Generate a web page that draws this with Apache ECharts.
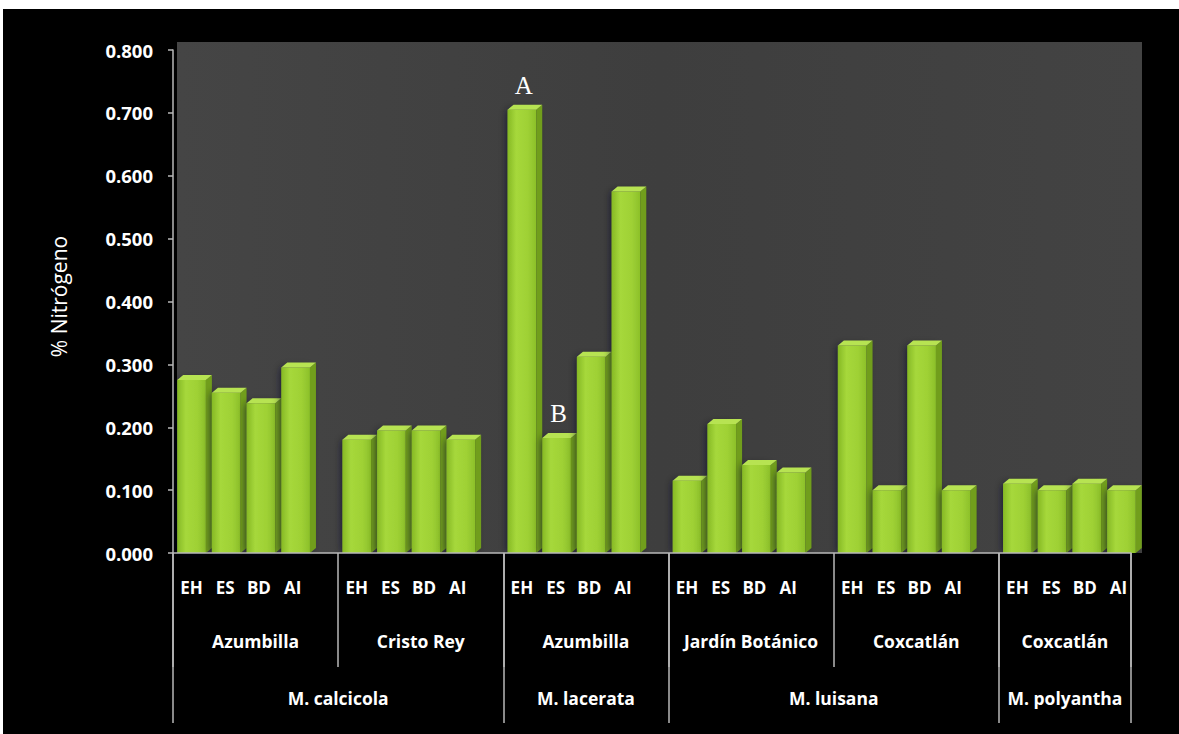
<!DOCTYPE html>
<html>
<head>
<meta charset="utf-8">
<script src="https://cdn.jsdelivr.net/npm/echarts@6/dist/echarts.min.js"></script>
<style>
  html, body { margin: 0; padding: 0; background: #fff; }
  #chart {
    position: absolute; left: 0; top: 0; width: 1179px; height: 734px;
    background:
      linear-gradient(#fff, #fff) 0 0 / 100% 9px no-repeat,
      linear-gradient(#fff, #fff) 0 0 / 3px 100% no-repeat,
      #000;
  }
</style>
</head>
<body>
<div id="chart"></div>
<script>
// Sites (one group of four bars each) and the species they belong to
const sites = ['Azumbilla', 'Cristo Rey', 'Azumbilla', 'Jardín Botánico', 'Coxcatlán', 'Coxcatlán'];
const species = ['M. calcicola', 'M. lacerata', 'M. luisana', 'M. polyantha'];
const treatments = ['EH', 'ES', 'BD', 'AI'];

// % nitrogen per treatment, one value per site
const valuesEH = [0.275, 0.180, 0.705, 0.115, 0.330, 0.110];
const valuesES = [0.255, 0.195, 0.183, 0.205, 0.100, 0.100];
const valuesBD = [0.238, 0.195, 0.312, 0.140, 0.330, 0.110];
const valuesAI = [0.295, 0.180, 0.575, 0.128, 0.100, 0.100];

// significance letters written above single bars
const lettersEH = ['', '', 'A', '', '', ''];
const lettersES = ['', '', 'B', '', '', ''];
const lettersBD = ['', '', '', '', '', ''];
const lettersAI = ['', '', '', '', '', ''];

// hierarchical category axis, measured in site units
const siteEdges = [0, 1, 2, 3, 4, 5, 5.8];
const siteCenters = [0.5, 1.5, 2.5, 3.5, 4.5, 5.4];
const speciesEdges = [0, 2, 3, 5, 5.8];
const speciesCenters = [1, 2.5, 4, 5.4];

const yMin = 0, yMax = 0.8, yStep = 0.1;

const labelFont = 'Open Sans';
const frontFill = {
  type: 'linear', x: 0, y: 0, x2: 1, y2: 0,
  colorStops: [
    { offset: 0, color: '#86b925' },
    { offset: 0.3, color: '#a6d83b' },
    { offset: 0.7, color: '#9fd135' },
    { offset: 1, color: '#8cc02a' }
  ]
};

// draws one 3-D looking column: front face, right side and top face
function columnRenderer(k, letters) {
  return function (params, api) {
    const i = api.value(0);
    const v = api.value(1);
    const band = api.size([1, 0])[0];
    const base = api.coord([i, 0]);
    const top = api.coord([i, v]);
    const inner = band * 0.84;
    const slot = inner / 4;
    const dx = 6, dy = 5;
    const x0 = base[0] - inner / 2 + k * slot;
    const w = slot - dx;
    const yT = top[1], yB = base[1];
    const children = [
      {
        type: 'rect',
        shape: { x: x0, y: yT, width: w, height: yB - yT },
        style: { fill: frontFill, shadowBlur: 8, shadowColor: 'rgba(15,15,40,0.75)' }
      },
      {
        type: 'polygon',
        shape: { points: [[x0 + w, yT], [x0 + w + dx, yT - dy], [x0 + w + dx, yB - dy], [x0 + w, yB]] },
        style: { fill: '#719e1c' }
      },
      {
        type: 'polygon',
        shape: { points: [[x0, yT], [x0 + dx, yT - dy], [x0 + w + dx, yT - dy], [x0 + w, yT]] },
        style: { fill: '#b7e352' }
      },
      {
        type: 'text',
        style: {
          text: treatments[k], x: x0 + w / 2 - k, y: yB + 34,
          fill: '#fff', fontSize: 17, fontWeight: 'bold', fontFamily: labelFont,
          align: 'center', verticalAlign: 'middle'
        }
      }
    ];
    const letter = letters[i];
    if (letter) {
      children.push({
        type: 'text',
        style: {
          text: letter, x: x0 + w / 2 + 2, y: yT - 24,
          fill: '#fff', fontSize: 25, fontFamily: 'Liberation Serif',
          align: 'center', verticalAlign: 'middle'
        }
      });
    }
    return { type: 'group', children: children };
  };
}

const seriesValues = [valuesEH, valuesES, valuesBD, valuesAI];
const seriesLetters = [lettersEH, lettersES, lettersBD, lettersAI];

const chart = echarts.init(document.getElementById('chart'), null, { renderer: 'svg' });

chart.setOption({
  backgroundColor: 'transparent',
  animation: false,
  grid: [
    // axis frame
    { left: 173, right: 48, top: 50, bottom: 181, show: false },
    // columns
    { left: 164, right: 24, top: 50, bottom: 181, show: false },
    // back wall
    {
      left: 177, right: 37, top: 42, bottom: 181, show: true,
      borderWidth: 0,
      backgroundColor: {
        type: 'linear', x: 0, y: 0, x2: 1, y2: 0,
        colorStops: [
          { offset: 0, color: '#454545' },
          { offset: 0.5, color: '#3e3e3e' },
          { offset: 1, color: '#434343' }
        ]
      }
    }
  ],
  xAxis: [
    {
      gridIndex: 0, type: 'value', min: siteEdges[0], max: siteEdges[siteEdges.length - 1],
      position: 'bottom', z: 5,
      axisLine: { show: true, lineStyle: { color: '#b8b8b8', width: 1.5 } },
      axisTick: { show: true, customValues: siteEdges, length: 114, lineStyle: { color: '#b8b8b8', width: 1.5 } },
      axisLabel: {
        show: true, customValues: siteCenters, margin: 79,
        color: '#fff', fontSize: 17.5, fontWeight: 'bold', fontFamily: labelFont,
        formatter: function (v) { const idx = siteCenters.indexOf(v); return idx >= 0 ? sites[idx] : ''; }
      },
      splitLine: { show: false }
    },
    {
      gridIndex: 0, type: 'value', min: speciesEdges[0], max: speciesEdges[speciesEdges.length - 1],
      position: 'bottom', z: 5,
      axisLine: { show: false },
      axisTick: { show: true, customValues: speciesEdges, length: 170, lineStyle: { color: '#b8b8b8', width: 1.5 } },
      axisLabel: {
        show: true, customValues: speciesCenters, margin: 136,
        color: '#fff', fontSize: 17.5, fontWeight: 'bold', fontFamily: labelFont,
        formatter: function (v) { const idx = speciesCenters.indexOf(v); return idx >= 0 ? species[idx] : ''; }
      },
      splitLine: { show: false }
    },
    { gridIndex: 1, type: 'category', data: sites, show: false },
    { gridIndex: 2, type: 'value', show: false }
  ],
  yAxis: [
    {
      gridIndex: 0, type: 'value', min: yMin, max: yMax, interval: yStep, z: 5,
      name: '% Nitrógeno', nameLocation: 'middle', nameGap: 104, nameRotate: 90,
      nameTextStyle: { color: '#fff', fontSize: 21, fontFamily: labelFont, padding: [0, 0, 0, 10] },
      axisLine: { show: true, lineStyle: { color: '#b8b8b8', width: 1.5 } },
      axisTick: { show: true, length: 5, lineStyle: { color: '#b8b8b8', width: 1.5 } },
      axisLabel: {
        margin: 20, color: '#fff', fontSize: 18.5, fontWeight: 'bold', fontFamily: labelFont,
        formatter: function (v) { return v.toFixed(3); }
      },
      splitLine: { show: false }
    },
    { gridIndex: 1, type: 'value', min: yMin, max: yMax, show: false },
    { gridIndex: 2, type: 'value', show: false }
  ],
  series: treatments.map(function (name, k) {
    return {
      name: name,
      type: 'custom',
      xAxisIndex: 2,
      yAxisIndex: 1,
      clip: false,
      encode: { x: 0, y: 1 },
      data: seriesValues[k].map(function (v, i) { return [i, v]; }),
      renderItem: columnRenderer(k, seriesLetters[k])
    };
  })
});
</script>
</body>
</html>
